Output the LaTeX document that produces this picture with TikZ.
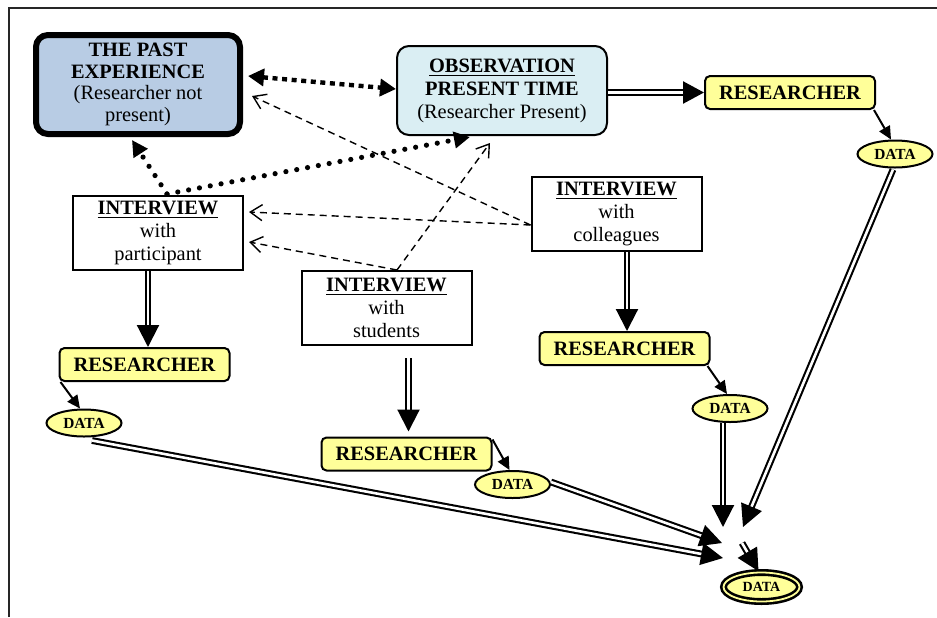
\documentclass[tikz,border=0pt]{standalone}
\usepackage{fontspec}
\setmainfont{Liberation Serif}
\usetikzlibrary{arrows.meta,shapes.geometric,calc}
\definecolor{pastblue}{RGB}{184,204,228}
\definecolor{obsblue}{RGB}{218,238,243}
\definecolor{yel}{RGB}{255,255,153}
\begin{document}
\begin{tikzpicture}[x=0.5pt,y=-0.5pt,
  txt/.style={font=\fontsize{10.2}{11.5}\selectfont, align=center, inner sep=0pt},
  pastbox/.style={txt, draw, line width=3pt, rounded corners=6pt, fill=pastblue, minimum width=102pt, minimum height=49.5pt, font=\fontsize{10.2}{10.9}\selectfont},
  obsbox/.style={txt, draw, line width=1pt, rounded corners=6pt, fill=obsblue, minimum width=105pt, minimum height=44.5pt},
  resbox/.style={txt, draw, line width=1pt, rounded corners=2.5pt, fill=yel, minimum width=85pt, minimum height=16.5pt, font=\fontsize{10.2}{11.5}\selectfont\bfseries},
  intbox/.style={txt, draw, line width=1pt, fill=white, minimum width=85pt, minimum height=37pt},
  databox/.style={ellipse, draw, line width=1pt, fill=yel, inner sep=0pt, minimum width=37.5pt, minimum height=13.5pt, font=\fontsize{7.7}{8}\selectfont\bfseries},
  finalbox/.style={ellipse, draw, line width=1.3pt, double=yel, double distance=0.9pt, fill=yel, inner sep=0pt, minimum width=38pt, minimum height=14.5pt, font=\fontsize{7}{8}\selectfont\bfseries},
  dbl/.style={draw, line width=1.05pt, double, double distance=1.3pt, -{Triangle[length=11pt,width=11pt]}},
  dblb/.style={draw, line width=1.2pt, double, double distance=1.5pt, -{Triangle[length=10.5pt,width=11pt]}},
  sarrow/.style={draw, line width=1pt, -{Triangle[length=6.5pt,width=6pt]}},
  dsh/.style={draw, line width=0.7pt, dash pattern=on 3.5pt off 2.5pt, -{Straight Barb[length=6pt,width=8pt,line width=0.7pt]}},
  dotsq/.style={draw, line width=2.2pt, dash pattern=on 2.5pt off 2.3pt, {Triangle[length=8pt,width=8.5pt]}-{Triangle[length=8pt,width=8.5pt]}},
  dotrd/.style={draw, line width=2.6pt, line cap=round, dash pattern=on 0pt off 5.5pt, -{Triangle[length=8pt,width=8pt]}}
]
\useasboundingbox (0,0) rectangle (937,617);
\draw[line width=1pt, black!85] (9,617) -- (9,8) -- (937,8);

\node[pastbox] (past) at (138,84.5) {\textbf{THE PAST}\\\textbf{EXPERIENCE}\\(Researcher not\\present)};
\node[obsbox] (obs) at (502,90.5) {\underline{\textbf{OBSERVATION}}\\\textbf{PRESENT TIME}\\(Researcher Present)};
\node[resbox] (resTR) at (790,92.5) {RESEARCHER};
\node[databox] (dataTR) at (895,154) {DATA};
\node[intbox] (part) at (158,233) {\underline{\textbf{INTERVIEW}}\\with\\participant};
\node[intbox] (coll) at (616.5,214) {\underline{\textbf{INTERVIEW}}\\with\\colleagues};
\node[intbox] (stud) at (386.5,308) {\underline{\textbf{INTERVIEW}}\\with\\students};
\node[resbox] (resL) at (144.5,364.5) {RESEARCHER};
\node[resbox] (resC) at (624.5,348.5) {RESEARCHER};
\node[resbox] (resS) at (406.5,454) {RESEARCHER};
\node[databox] (dataL) at (84,423) {DATA};
\node[databox] (dataC) at (730,408.5) {DATA};
\node[databox] (dataS) at (512.5,484.5) {DATA};
\node[finalbox] (final) at (761.5,587) {DATA};

\coordinate (tipC) at (723,527);
\coordinate (tipTR) at (743,527);
\coordinate (tipS) at (722,543);
\coordinate (tipL) at (723,558);
\coordinate (smallstart) at (742,543);

% double arrows
\coordinate (p1) at ($(part.south)+(-10,0)$);
\draw[dbl] (p1) -- (p1 |- resL.north);
\coordinate (c1) at ($(coll.south)+(10.5,0)$);
\draw[dbl] (c1) -- (c1 |- resC.north);
\coordinate (s1) at ($(stud.south)+(22,12)$);
\coordinate (s2) at (s1 |- resS.north);
\draw[dbl] (s1) -- ($(s2)+(0,-5)$);
\draw[dblb] (obs.east |- resTR.west) -- (resTR.west);

\draw[dbl] ($(dataL.south)+(8,3)$) -- (tipL);
\draw[dbl] ($(dataS.east)+(0,-2.5)$) -- (tipS);
\draw[dbl] ($(dataC.south)+(-7,0)$) -- (tipC);
\draw[dbl] ($(dataTR.south)+(-2,1)$) -- (tipTR);
\draw[dbl] (smallstart) -- ($(final.north)+(-3,0)$);

% single arrows
\draw[sarrow] ([xshift=-1pt]resTR.south east) -- ([xshift=-2pt]dataTR.north);
\draw[sarrow] ([xshift=1pt]resL.south west) -- ([xshift=-2pt]dataL.north);
\draw[sarrow] ([xshift=-1.5pt]resC.south east) -- ([xshift=-1.5pt]dataC.north);
\draw[sarrow] ([yshift=-1.5pt]resS.north east) -- ([xshift=-1.5pt]dataS.north);

% dashed arrows
\coordinate (cw) at ($(coll.west)+(0,11)$);
\draw[dsh] (cw) -- ($(past.east)+(9,11.5)$);
\draw[dsh] (cw) -- ($(part.east)+(5,-21)$);
\coordinate (st) at ($(stud.north)+(10.5,0)$);
\draw[dsh] (st) -- ($(part.east)+(5,9)$);
\draw[dsh] (st) -- ($(obs.south)+(-12,7)$);

% dotted arrows
\draw[dotsq] ($(past.east)+(5,-8.5)$) -- ($(obs.west)+(0,-1.5)$);
\coordinate (pt) at ($(part.north)+(9,-1)$);
\draw[dotrd] (pt) -- ($(past.south)+(-6,3)$);
\draw[dotrd] (pt) -- ($(obs.south)+(-32,1)$);
\end{tikzpicture}
\end{document}
